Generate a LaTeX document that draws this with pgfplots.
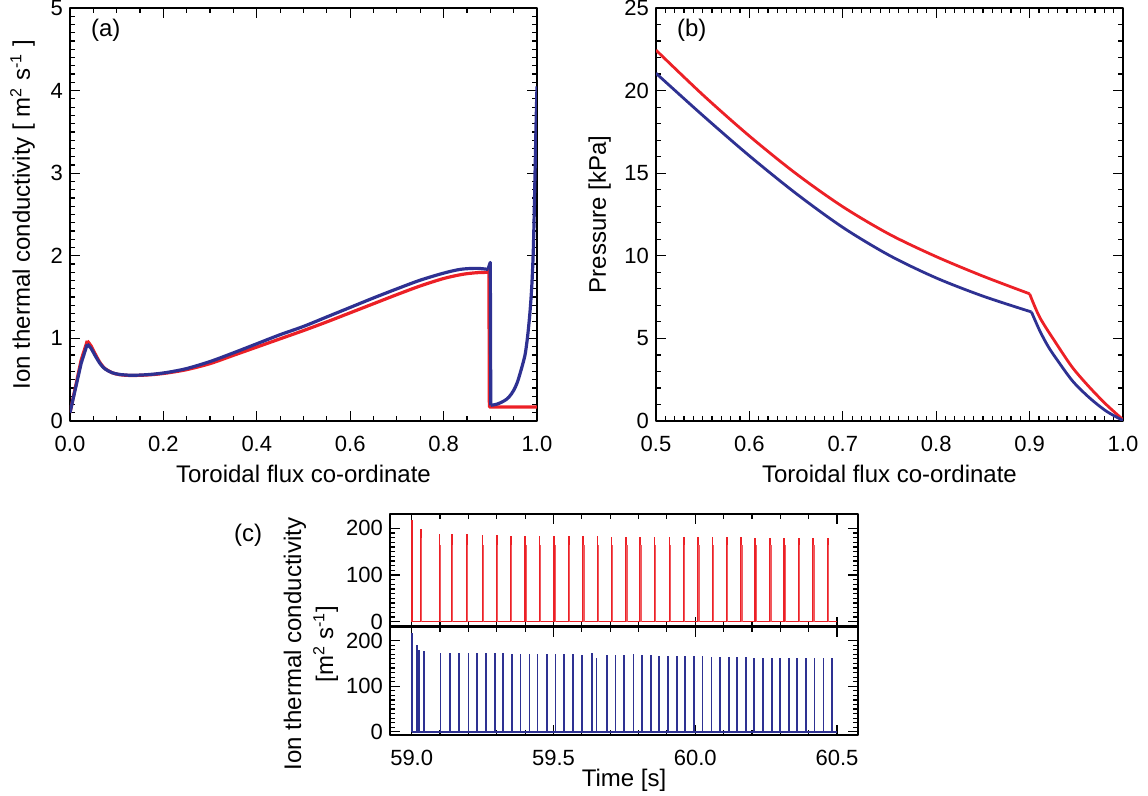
\documentclass[border=0pt]{standalone}
\usepackage{fontspec}
\setmainfont{Liberation Sans}
\usepackage{pgfplots}
\usepackage{pgfplotstable}
\pgfplotsset{compat=1.18}
\definecolor{myred}{RGB}{236,32,38}
\definecolor{myblue}{RGB}{46,49,146}

\pgfplotstableread{
t h
59.000 217
59.032 199
59.098 187
59.141 187
59.194 187
59.250 185
59.300 185
59.349 184
59.401 184
59.451 184
59.503 184
59.554 184
59.604 183
59.655 183
59.705 182
59.756 182
59.805 182
59.856 182
59.909 182
59.959 182
60.010 182
60.061 181
60.111 181
60.161 181
60.212 180
60.264 180
60.314 180
60.365 180
60.416 180
60.467 180
}\redspikes

\pgfplotstableread{
t h
59.0355 180
59.1015 165
59.1445 165
59.1975 165
59.2535 165
59.3035 165
59.3525 165
59.4045 165
59.4545 165
59.5065 165
59.5575 165
59.6075 165
59.6585 165
59.7085 165
59.7595 165
59.8085 165
59.8595 165
59.9125 165
59.9625 165
60.0135 165
60.0645 165
60.1145 165
60.1645 165
60.2155 165
60.2675 165
60.3175 165
60.3685 165
60.4195 165
60.4705 165
}\redshoulders

\pgfplotstableread{
t h
59.000 216
59.018 190
59.027 179
59.043 177
59.102 174
59.135 172
59.168 174
59.200 172
59.230 172
59.262 172
59.293 172
59.323 172
59.354 171
59.384 171
59.415 171
59.444 171
59.476 171
59.507 170
59.537 170
59.569 171
59.600 169
59.635 172
59.652 163
59.688 169
59.719 168
59.749 168
59.782 170
59.812 168
59.843 168
59.873 167
59.904 166
59.935 166
59.965 166
59.996 166
60.026 166
60.057 164
60.087 164
60.118 165
60.148 165
60.179 165
60.208 163
60.240 163
60.270 163
60.300 163
60.331 163
60.360 163
60.391 162
60.421 162
60.452 162
60.483 163
}\bluespikes

\pgfplotsset{
 mystyle/.style={
  scale only axis,
  axis line style={line width=0.8pt},
  tick style={line width=0.6pt,black},
  major tick length=5pt,
  minor tick length=2.5pt,
  tick align=inside,
  tick label style={font=\fontsize{11}{13}\selectfont},
  xticklabel style={yshift=-4pt},
  label style={font=\fontsize{12}{14}\selectfont},
  /pgf/number format/assume math mode=true,
 }
}

\begin{document}
\begin{tikzpicture}[line cap=round, line join=round]
\useasboundingbox (0,0) rectangle (574pt,-398pt);

% ---------------- (a)
\begin{axis}[mystyle, at={(35pt,-210.5pt)}, anchor=south west,
  width=233.5pt, height=206.5pt,
  xmin=0, xmax=1, ymin=0, ymax=5,
  xtick={0,0.2,0.4,0.6,0.8,1}, minor x tick num=3,
  ytick={0,1,2,3,4,5}, minor y tick num=9,
  xticklabel style={/pgf/number format/.cd, fixed, fixed zerofill, precision=1},
  xlabel={Toroidal flux co-ordinate},
  ylabel={Ion thermal conductivity [ m\textsuperscript{2} s\textsuperscript{-1} ]},
  ylabel style={yshift=1pt}]
% red
\addplot[myred, line width=1.6pt] coordinates {
(0.000,0.10)(0.012,0.42)(0.024,0.74)(0.037,0.97)};
\addplot[myred, line width=1.6pt, smooth] coordinates {
(0.037,0.97)(0.045,0.91)
(0.055,0.80)(0.065,0.70)(0.075,0.635)(0.090,0.585)(0.105,0.562)(0.125,0.552)
(0.15,0.553)(0.18,0.563)(0.21,0.583)(0.25,0.622)(0.30,0.695)(0.35,0.795)
(0.40,0.895)(0.45,0.995)(0.50,1.095)(0.55,1.20)(0.60,1.31)(0.65,1.42)
(0.70,1.53)(0.75,1.635)(0.80,1.725)(0.84,1.775)(0.87,1.795)(0.896,1.80)};
\addplot[myred, line width=1.6pt] coordinates {
(0.896,1.80)(0.897,1.83)(0.898,0.17)(1.0,0.17)};
% blue
\addplot[myblue, line width=1.6pt] coordinates {
(0.000,0.10)(0.012,0.40)(0.024,0.70)(0.037,0.93)};
\addplot[myblue, line width=1.6pt, smooth] coordinates {
(0.037,0.93)(0.045,0.88)
(0.055,0.78)(0.065,0.69)(0.075,0.63)(0.090,0.585)(0.105,0.565)(0.125,0.555)
(0.15,0.556)(0.18,0.568)(0.21,0.59)(0.25,0.635)(0.30,0.72)(0.35,0.825)
(0.40,0.935)(0.45,1.045)(0.50,1.145)(0.55,1.26)(0.60,1.375)(0.65,1.49)
(0.70,1.60)(0.75,1.705)(0.80,1.79)(0.836,1.836)(0.87,1.848)(0.895,1.836)};
\addplot[myblue, line width=1.6pt] coordinates {
(0.895,1.836)(0.900,1.92)(0.901,0.19)};
\addplot[myblue, line width=1.6pt, smooth] coordinates {
(0.901,0.19)(0.915,0.205)(0.93,0.245)(0.94,0.29)(0.95,0.37)(0.958,0.47)(0.964,0.58)
(0.970,0.70)(0.975,0.82)(0.980,1.03)(0.985,1.32)(0.989,1.65)(0.992,2.05)
(0.994,2.50)(0.996,3.05)(0.998,3.60)(1.000,4.05)};
\node[anchor=west, font=\fontsize{12}{14}\selectfont] at (rel axis cs:0.03,0.947) {(a)};
\end{axis}

% ---------------- (b)
\begin{axis}[mystyle, at={(328pt,-210.5pt)}, anchor=south west,
  width=233.5pt, height=206.5pt,
  xmin=0.5, xmax=1, ymin=0, ymax=25,
  xtick={0.5,0.6,0.7,0.8,0.9,1}, minor x tick num=9,
  ytick={0,5,10,15,20,25}, minor y tick num=4,
  xticklabel style={/pgf/number format/.cd, fixed, fixed zerofill, precision=1},
  xlabel={Toroidal flux co-ordinate},
  ylabel={Pressure [kPa]}]
\addplot[myred, line width=1.4pt, smooth] coordinates {
(0.5,22.45)(0.55,19.75)(0.6,17.25)(0.65,14.97)(0.7,12.97)(0.75,11.3)(0.8,9.95)
(0.85,8.77)(0.9,7.7)};
\addplot[myred, line width=1.4pt, smooth] coordinates {
(0.9,7.7)(0.911,6.26)(0.929,4.65)(0.946,3.23)(0.964,2.05)(0.982,1.0)(1.0,0.08)};
\addplot[myblue, line width=1.4pt, smooth] coordinates {
(0.5,21.05)(0.55,18.5)(0.6,16.05)(0.65,13.77)(0.7,11.72)(0.75,10.02)(0.8,8.66)
(0.85,7.56)(0.902,6.6)};
\addplot[myblue, line width=1.4pt, smooth] coordinates {
(0.902,6.6)(0.911,5.45)(0.92,4.5)(0.929,3.74)(0.946,2.42)(0.964,1.41)(0.982,0.6)(1.0,0.03)};
\node[anchor=west, font=\fontsize{12}{14}\selectfont] at (rel axis cs:0.03,0.947) {(b)};
\end{axis}

% ---------------- (c) top
\begin{axis}[mystyle, at={(195pt,-313.5pt)}, anchor=south west,
  width=234pt, height=56.5pt,
  xmin=58.9235, xmax=60.574, ymin=-11.4, ymax=230.9,
  xtick={59,59.5,60,60.5}, minor x tick num=4, xticklabels={},
  ytick={0,100,200}, minor y tick num=9]
\addplot[myred, line width=0.8pt] coordinates {(59,0)(60.5,0)};
\addplot[myred, line width=0.9pt, ycomb] table[x=t,y=h] {\redspikes};
\addplot[myred!75, line width=0.7pt, ycomb] table[x=t,y=h] {\redshoulders};
\draw[line width=1.8pt] (rel axis cs:0,0) -- (rel axis cs:1,0);
\end{axis}

% ---------------- (c) bottom
\begin{axis}[mystyle, at={(195pt,-367.5pt)}, anchor=south west,
  width=234pt, height=54pt,
  xmin=58.9235, xmax=60.574, ymin=-7, ymax=230,
  xtick={59,59.5,60,60.5}, minor x tick num=4,
  xticklabel style={/pgf/number format/.cd, fixed, fixed zerofill, precision=1},
  ytick={0,100,200}, minor y tick num=9,
  xlabel={Time [s]}, xlabel style={yshift=5pt}]
\addplot[myblue, line width=0.8pt] coordinates {(59,0)(60.5,0)};
\addplot[myblue, line width=0.85pt, ycomb] table[x=t,y=h] {\bluespikes};
\end{axis}

\node[rotate=90, align=center, font=\fontsize{12}{16}\selectfont] at (155.5pt,-322pt)
  {Ion thermal conductivity\\{}[m\textsuperscript{2} s\textsuperscript{-1}]};
\node[font=\fontsize{12}{14}\selectfont] at (124pt,-267.5pt) {(c)};
\end{tikzpicture}
\end{document}
